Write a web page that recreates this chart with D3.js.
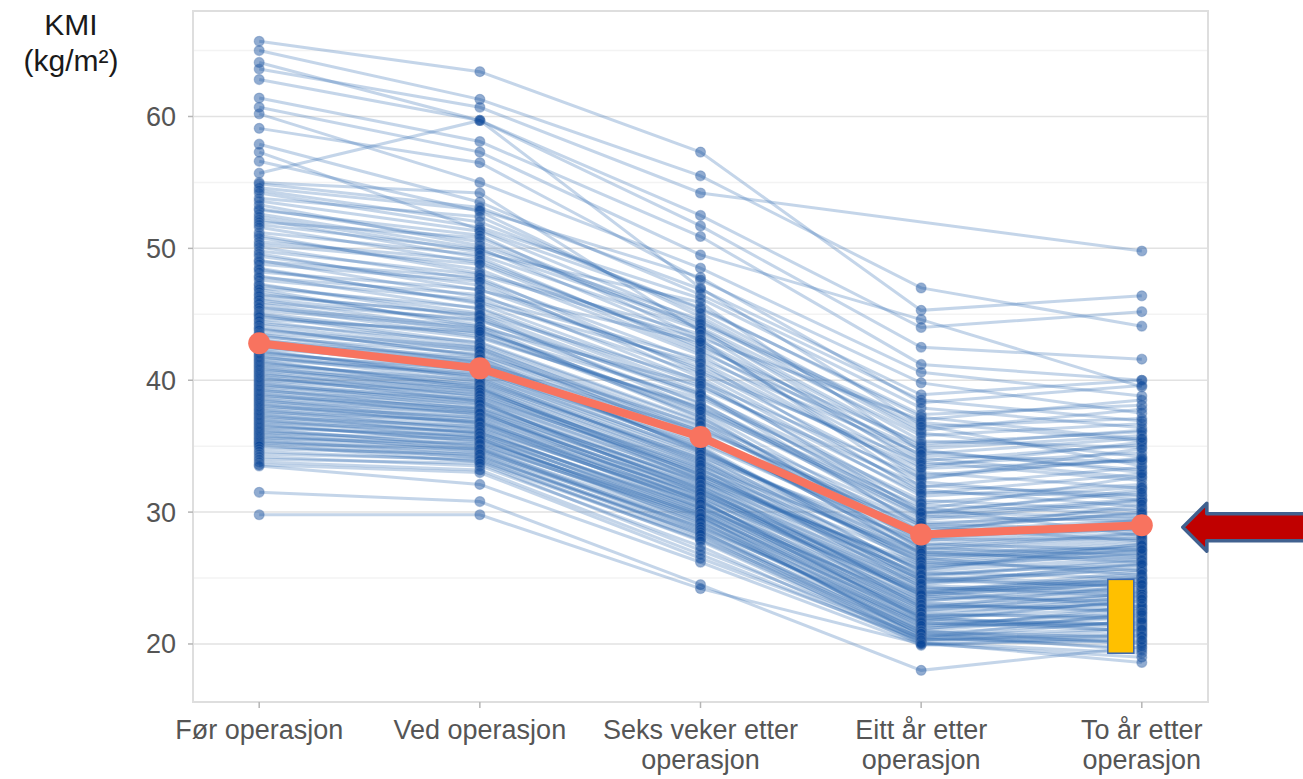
<!DOCTYPE html>
<html>
<head>
<meta charset="utf-8">
<script src="https://cdn.jsdelivr.net/npm/d3@7"></script>
<style>
  body { margin: 0; background: #fff; }
  svg { display: block; font-family: "Liberation Sans", Arial, sans-serif; }
</style>
</head>
<body>
<div id="chart"></div>
<script>
// time points, label split into lines
const timepoints = [
  ["Før operasjon"],
  ["Ved operasjon"],
  ["Seks veker etter", "operasjon"],
  ["Eitt år etter", "operasjon"],
  ["To år etter", "operasjon"]
];

// mean BMI per time point (the red line)
const meanKmi = [42.8, 40.9, 35.7, 28.3, 29.0];

const yTicks = [20, 30, 40, 50, 60];
const yMinor = [25, 35, 45, 55, 65];

// individual patients: [før, ved, seks veker, eitt år, to år], null = missing
const patients = [
  [65.7, 63.4, 57.3, 45.3, 46.4],
  [65.0, 61.3, 55.5, 47.0, 44.1],
  [64.1, 59.7, 52.5, 44.0, 45.2],
  [63.6, 60.7, 54.2, null, 49.8],
  [62.8, 59.7, 51.7, 42.5, 41.6],
  [61.4, 58.1, 50.9, 41.2, 40.0],
  [60.7, 57.3, 49.5, 44.6, 39.5],
  [60.2, 55.0, 48.5, 40.6, 38.8],
  [59.1, 56.5, 47.6, 39.8, 37.5],
  [57.9, 53.5, 46.5, 38.5, 36.9],
  [57.3, 51.4, 45.5, 37.2, 35.5],
  [56.6, 52.8, 44.8, 36.0, 34.2],
  [55.7, 59.7, 47.0, 36.6, 33.5],
  [55.0, 54.2, 43.7, 34.8, 35.8],
  [54.9, 53.1, 46.9, 38.9, 40.0],
  [54.6, 52.9, 47.8, 38.3, 39.6],
  [54.4, 52.0, 45.4, 37.4, 38.1],
  [54.2, 51.6, 46.2, 37.9, 36.4],
  [53.8, 52.4, 45.1, 36.2, 37.8],
  [53.6, 51.3, 44.4, 36.8, 35.4],
  [53.3, 50.2, 44.6, 35.4, 34.9],
  [53.0, 50.5, 43.9, 35.0, 36.2],
  [52.9, 51.0, 43.2, 37.0, 38.5],
  [52.6, 50.0, 43.0, 34.3, 33.8],
  [52.4, 49.7, 45.9, 34.6, 33.2],
  [52.2, 49.3, 42.3, 33.4, 35.3],
  [52.0, 50.8, 44.0, 35.8, 36.7],
  [51.8, 49.9, 44.3, 36.5, 37.1],
  [51.6, 48.9, 42.7, 33.9, 35.1],
  [51.2, 49.5, 43.8, 34.1, 32.6],
  [51.0, 48.1, 43.5, 33.6, 34.5],
  [50.8, 48.4, 41.9, 32.8, 34.0],
  [50.5, 49.1, 42.5, 35.2, 36.1],
  [50.3, 48.8, 42.1, 34.7, 33.0],
  [50.1, 47.6, 41.4, 33.0, 31.8],
  [49.8, 48.0, 43.1, 31.9, 33.4],
  [49.6, 46.8, 42.9, 32.5, 34.8],
  [49.4, 47.2, 40.8, 32.3, 30.9],
  [49.1, 46.3, 41.6, 34.4, 35.6],
  [49.0, 47.8, 40.6, 33.8, 32.4],
  [48.8, 47.5, 40.2, 31.2, 32.1],
  [48.5, 45.8, 39.7, 30.6, 29.8],
  [48.4, 45.9, 41.3, 31.5, 31.2],
  [48.2, 46.9, 41.0, 33.3, 33.9],
  [47.9, 45.4, 39.1, 29.8, 31.0],
  [47.8, 46.5, 39.9, 32.6, 34.1],
  [47.6, 46.1, 40.5, 31.7, 30.4],
  [47.3, 44.7, 38.8, 30.2, 32.7],
  [47.2, 45.1, 40.0, 30.0, 29.6],
  [47.0, 45.5, 39.4, 32.0, 31.3],
  [46.9, 44.0, 39.6, 31.4, 32.9],
  [46.7, 44.2, 38.3, 29.1, 28.6],
  [46.5, 44.9, 37.8, 29.6, 30.9],
  [46.4, 45.0, 38.9, 30.9, 30.1],
  [46.2, 44.5, 39.0, 28.9, 27.8],
  [46.1, 43.8, 37.6, 28.5, 29.4],
  [45.9, 44.6, 38.2, 29.9, 31.7],
  [45.8, 43.6, 38.6, 30.7, 31.9],
  [45.6, 43.3, 37.9, 30.4, 28.2],
  [45.5, 44.1, 37.2, 28.2, 28.7],
  [45.3, 43.9, 37.1, 28.0, 29.0],
  [45.1, 43.2, 38.0, 29.7, 29.3],
  [45.0, 42.8, 36.8, 29.4, 30.8],
  [44.9, 42.6, 36.5, 27.9, 28.0],
  [44.8, 43.5, 37.4, 27.6, 27.1],
  [44.6, 43.7, 37.7, 30.0, 31.5],
  [44.5, 42.4, 36.3, 28.8, 29.9],
  [44.3, 42.9, 36.9, 27.2, 28.4],
  [44.2, 42.2, 36.0, 26.9, 27.3],
  [44.0, 41.8, 35.7, 29.0, 30.3],
  [43.9, 41.9, 36.6, 28.4, 30.6],
  [43.8, 42.5, 36.1, 26.8, 26.5],
  [43.6, 42.3, 35.6, 27.3, 26.7],
  [43.5, 41.4, 35.3, 28.3, 29.1],
  [43.4, 41.3, 36.2, 29.2, 29.6],
  [43.3, 42.0, 35.9, 27.5, 28.8],
  [43.1, 41.1, 34.8, 26.4, 27.7],
  [43.0, 41.7, 34.6, 26.2, 25.6],
  [42.8, 41.6, 35.5, 28.6, 30.0],
  [42.7, 40.9, 35.8, 27.4, 28.5],
  [42.6, 40.7, 34.5, 27.0, 26.2],
  [42.5, 41.4, 34.7, 26.7, 27.0],
  [42.4, 41.2, 35.0, 26.1, 27.4],
  [42.3, 40.1, 34.0, 25.5, 26.6],
  [42.2, 40.3, 34.2, 27.8, 28.9],
  [42.1, 40.6, 35.2, 28.0, 29.4],
  [42.0, 40.8, 34.9, 25.9, 26.8],
  [41.9, 40.2, 33.7, 25.0, 24.6],
  [41.8, 39.9, 33.8, 26.6, 27.9],
  [41.7, 40.5, 34.6, 27.1, 28.3],
  [41.6, 40.4, 34.4, 25.4, 25.0],
  [41.5, 39.4, 33.3, 24.7, 26.0],
  [41.4, 39.6, 33.5, 26.9, 28.1],
  [41.3, 39.8, 34.1, 26.5, 25.2],
  [41.2, 40.0, 33.9, 25.1, 26.3],
  [41.1, 39.5, 32.8, 25.6, 27.6],
  [41.0, 39.2, 33.2, 26.3, 27.5],
  [40.9, 39.0, 33.4, 24.3, 23.6],
  [40.8, 39.7, 33.6, 24.8, 24.4],
  [40.7, 39.4, 32.4, 26.0, 27.1],
  [40.6, 38.8, 32.9, 25.7, 26.9],
  [40.5, 38.7, 33.1, 24.9, 24.3],
  [40.4, 39.3, 33.0, 24.5, 25.8],
  [40.3, 38.4, 32.2, 23.7, 25.1],
  [40.2, 38.5, 32.6, 25.8, 27.2],
  [40.1, 39.1, 32.8, 25.2, 26.4],
  [40.0, 38.9, 32.7, 24.2, 23.9],
  [39.9, 38.3, 31.7, 24.0, 22.8],
  [39.8, 38.1, 32.3, 25.3, 26.0],
  [39.7, 37.9, 32.4, 23.5, 25.0],
  [39.6, 38.6, 32.5, 23.9, 24.7],
  [39.5, 38.4, 31.4, 24.4, 24.1],
  [39.4, 37.8, 31.9, 24.9, 25.6],
  [39.3, 37.6, 32.0, 22.8, 23.7],
  [39.2, 38.2, 32.1, 23.6, 23.2],
  [39.1, 37.7, 31.1, 23.9, 25.5],
  [39.0, 37.4, 31.6, 24.6, 26.1],
  [38.9, 37.3, 31.7, 23.1, 22.4],
  [38.8, 37.9, 31.8, 23.3, 24.0],
  [38.7, 37.6, 30.8, 22.5, 23.9],
  [38.6, 37.1, 31.3, 24.1, 24.9],
  [38.5, 36.8, 31.4, 23.7, 24.6],
  [38.4, 37.5, 31.5, 22.9, 22.6],
  [38.3, 37.0, 30.5, 22.2, 22.1],
  [38.2, 36.7, 31.0, 23.8, 25.3],
  [38.1, 36.6, 30.9, 21.9, 23.3],
  [38.0, 37.2, 31.2, 22.6, 23.5],
  [37.9, 36.8, 30.3, 23.2, 24.8],
  [37.8, 36.4, 30.7, 23.4, 24.2],
  [37.7, 36.2, 30.0, 21.6, 21.0],
  [37.6, 36.9, 30.9, 22.3, 21.9],
  [37.5, 36.3, 30.8, 22.8, 22.9],
  [37.4, 36.0, 30.4, 23.0, 23.8],
  [37.3, 35.9, 29.7, 21.3, 22.6],
  [37.2, 36.5, 30.6, 22.0, 22.7],
  [37.1, 36.0, 30.3, 22.1, 23.6],
  [37.0, 35.7, 30.1, 22.7, 24.5],
  [36.9, 35.6, 29.4, 20.7, 20.2],
  [36.8, 36.1, 30.2, 21.8, 21.4],
  [36.7, 35.3, 29.9, 21.9, 21.5],
  [36.6, 35.4, 29.8, 22.4, 23.1],
  [36.5, 35.6, 29.1, 21.1, 22.9],
  [36.4, 35.8, 29.9, 21.5, 22.3],
  [36.3, 35.0, 29.7, 20.5, 19.7],
  [36.2, 35.1, 29.5, 22.1, 20.9],
  [36.1, 34.9, 28.8, 21.6, 21.3],
  [36.0, 35.5, 29.6, 21.2, 22.0],
  [35.9, 34.7, 28.6, 20.3, 20.8],
  [35.8, 34.8, 29.2, 21.7, 23.4],
  [35.7, 34.6, 29.0, 21.0, 22.2],
  [35.6, 35.2, 29.3, 20.9, 20.5],
  [35.5, 34.3, 28.2, 20.1, 19.3],
  [35.4, 34.5, 28.9, 21.4, 21.6],
  [35.3, 34.1, 28.4, 20.8, 21.7],
  [35.2, 34.8, 28.7, 20.6, 21.2],
  [35.1, 33.8, 27.9, 20.4, 20.1],
  [35.0, 34.2, 28.5, 21.0, 20.0],
  [34.8, 34.4, 28.3, 20.4, 21.8],
  [34.6, 33.9, 28.0, 20.8, 19.5],
  [34.4, 34.0, 27.8, 20.2, 20.7],
  [34.2, 33.5, 27.4, 20.0, 19.0],
  [34.0, 33.7, 27.1, 20.5, 22.4],
  [33.8, 33.2, 26.8, 20.1, 18.6],
  [33.6, 33.0, 26.5, 20.3, 21.1],
  [33.5, 32.1, 26.2, 19.9, 20.6],
  [31.5, 30.8, 24.5, 18.0, 19.8],
  [29.8, 29.8, 24.2, 20.0, 20.3]
];

const width = 1303, height = 779;
const plot = {left: 193, right: 1208, top: 11, bottom: 702};

const svg = d3.select("#chart").append("svg")
  .attr("width", width)
  .attr("height", height);

const x = d3.scalePoint()
  .domain(d3.range(timepoints.length))
  .range([plot.left, plot.right])
  .padding(0.3);

const y = d3.scaleLinear()
  .domain([15.6, 68])
  .range([plot.bottom, plot.top]);

// minor + major grid
svg.append("g").selectAll("line")
  .data(yMinor).enter().append("line")
  .attr("x1", plot.left).attr("x2", plot.right)
  .attr("y1", d => y(d)).attr("y2", d => y(d))
  .attr("stroke", "#f3f3f3").attr("stroke-width", 1.5);

svg.append("g").selectAll("line")
  .data(yTicks).enter().append("line")
  .attr("x1", plot.left).attr("x2", plot.right)
  .attr("y1", d => y(d)).attr("y2", d => y(d))
  .attr("stroke", "#e2e2e2").attr("stroke-width", 1.5);

// plot frame
svg.append("rect")
  .attr("x", plot.left).attr("y", plot.top)
  .attr("width", plot.right - plot.left)
  .attr("height", plot.bottom - plot.top)
  .attr("fill", "none")
  .attr("stroke", "#dedede")
  .attr("stroke-width", 2);

// patient lines
const line = d3.line()
  .x(d => x(d.i))
  .y(d => y(d.v));

const patientPts = patients.map(p => p.map((v, i) => ({i: i, v: v})).filter(d => d.v != null));

svg.append("g").selectAll("path")
  .data(patientPts).enter().append("path")
  .attr("d", line)
  .attr("fill", "none")
  .attr("stroke", "#2b69b0")
  .attr("stroke-opacity", 0.28)
  .attr("stroke-width", 3);

// patient dots
svg.append("g").selectAll("circle")
  .data(patientPts.flat()).enter().append("circle")
  .attr("cx", d => x(d.i))
  .attr("cy", d => y(d.v))
  .attr("r", 5)
  .attr("fill", "#0a4898")
  .attr("fill-opacity", 0.45)
  .attr("stroke", "#5a7fb5")
  .attr("stroke-opacity", 0.4)
  .attr("stroke-width", 1.2);

// mean line
const meanLine = d3.line()
  .x((d, i) => x(i))
  .y(d => y(d));

svg.append("path")
  .datum(meanKmi)
  .attr("d", meanLine)
  .attr("fill", "none")
  .attr("stroke", "#f8735f")
  .attr("stroke-width", 8)
  .attr("stroke-linejoin", "round");

svg.append("g").selectAll("circle")
  .data(meanKmi).enter().append("circle")
  .attr("cx", (d, i) => x(i))
  .attr("cy", d => y(d))
  .attr("r", 11)
  .attr("fill", "#f8735f");

// y axis ticks and labels
const yAxis = svg.append("g");
yAxis.selectAll("line")
  .data(yTicks).enter().append("line")
  .attr("x1", plot.left - 5).attr("x2", plot.left)
  .attr("y1", d => y(d)).attr("y2", d => y(d))
  .attr("stroke", "#b5b5b5").attr("stroke-width", 1.5);
yAxis.selectAll("text")
  .data(yTicks).enter().append("text")
  .attr("x", plot.left - 17)
  .attr("y", d => y(d))
  .attr("dy", "0.35em")
  .attr("text-anchor", "end")
  .attr("fill", "#555")
  .attr("font-size", "27px")
  .text(d => d);

// x axis ticks and labels
const xAxis = svg.append("g");
xAxis.selectAll("line")
  .data(timepoints).enter().append("line")
  .attr("x1", (d, i) => x(i)).attr("x2", (d, i) => x(i))
  .attr("y1", plot.bottom).attr("y2", plot.bottom + 6)
  .attr("stroke", "#b5b5b5").attr("stroke-width", 1.5);

xAxis.selectAll("text")
  .data(timepoints).enter().append("text")
  .attr("x", (d, i) => x(i))
  .attr("y", 739)
  .attr("text-anchor", "middle")
  .attr("fill", "#555")
  .attr("font-size", "27px")
  .each(function(d, i) {
    d3.select(this).selectAll("tspan")
      .data(d).enter().append("tspan")
      .attr("x", x(i))
      .attr("dy", (t, j) => j == 0 ? 0 : 30)
      .text(t => t);
  });

// y title
svg.append("text")
  .attr("x", 71).attr("y", 35)
  .attr("text-anchor", "middle")
  .attr("fill", "#1a1a1a")
  .attr("font-size", "30px")
  .text("KMI");
svg.append("text")
  .attr("x", 71).attr("y", 71)
  .attr("text-anchor", "middle")
  .attr("fill", "#1a1a1a")
  .attr("font-size", "30px")
  .text("(kg/m²)");

// annotations: arrow pointing at the two-year mean, yellow box
const last = meanKmi.length - 1;
const ax = x(last) + 41, ay = y(meanKmi[last]) + 2;
svg.append("path")
  .attr("d", "M" + ax + "," + ay +
    " L" + (ax + 24) + "," + (ay - 24) +
    " L" + (ax + 24) + "," + (ay - 13.5) +
    " L" + (width + 10) + "," + (ay - 13.5) +
    " L" + (width + 10) + "," + (ay + 13.5) +
    " L" + (ax + 24) + "," + (ay + 13.5) +
    " L" + (ax + 24) + "," + (ay + 24) + " Z")
  .attr("fill", "#c00000")
  .attr("stroke", "#41618f")
  .attr("stroke-width", 3.5)
  .attr("stroke-linejoin", "round");

svg.append("rect")
  .attr("x", x(last) - 34)
  .attr("y", y(24.9))
  .attr("width", 26)
  .attr("height", y(19.3) - y(24.9))
  .attr("fill", "#ffc000")
  .attr("stroke", "#3a66b0")
  .attr("stroke-width", 1.5);
</script>
</body>
</html>
